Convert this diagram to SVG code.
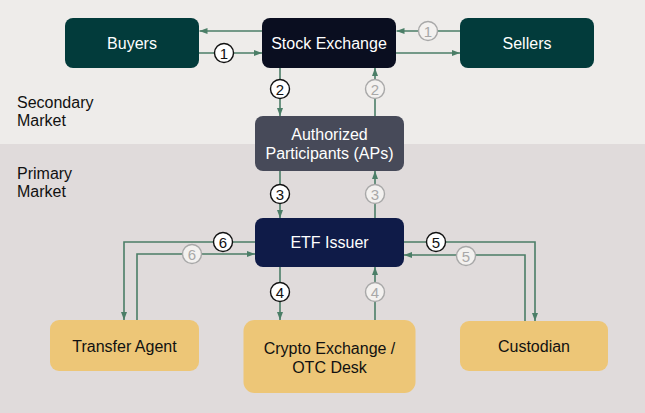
<svg xmlns="http://www.w3.org/2000/svg" width="645" height="413" viewBox="0 0 645 413">
<defs>
<marker id="ah" markerUnits="userSpaceOnUse" markerWidth="8" markerHeight="8" viewBox="0 0 8 8" refX="8" refY="4" orient="auto">
<path d="M0,1 L8,4 L0,7 Z" fill="#4b7e67"/>
</marker>
<style>
.bt{font-family:"Liberation Sans",Arial,sans-serif;font-size:16px;fill:#ffffff;text-anchor:middle;dominant-baseline:central}
.yt{font-family:"Liberation Sans",Arial,sans-serif;font-size:16px;fill:#111111;text-anchor:middle;dominant-baseline:central}
.lab{font-family:"Liberation Sans",Arial,sans-serif;font-size:16px;fill:#111111}
.ln{fill:none;stroke:#4b7e67;stroke-width:1.6;marker-end:url(#ah)}
.cb{fill:#ffffff;stroke:#111111;stroke-width:1.4}
.cg{fill:#f3f1ef;stroke:#a8a8a8;stroke-width:1.4}
.nb{font-family:"Liberation Sans",Arial,sans-serif;font-size:15px;fill:#111111;text-anchor:middle;dominant-baseline:central}
.ng{font-family:"Liberation Sans",Arial,sans-serif;font-size:15px;fill:#a8a8a8;text-anchor:middle;dominant-baseline:central}
</style>
</defs>
<rect x="0" y="0" width="645" height="144" fill="#eeecea"/>
<rect x="0" y="144" width="645" height="269" fill="#e0dbdb"/>
<text class="lab" x="17" y="108">Secondary</text>
<text class="lab" x="17" y="126">Market</text>
<text class="lab" x="17" y="179">Primary</text>
<text class="lab" x="17" y="197">Market</text>

<g id="connectors">
<path class="ln" d="M262,31 H199.5"/>
<path class="ln" d="M199,53 H262"/>
<path class="ln" d="M460,31 H396.5"/>
<path class="ln" d="M396,53 H460"/>
<path class="ln" d="M280,68 V116"/>
<path class="ln" d="M375,116 V68"/>
<path class="ln" d="M280,171 V218"/>
<path class="ln" d="M375,218 V171"/>
<path class="ln" d="M280,267 V320"/>
<path class="ln" d="M375,320 V267"/>
<path class="ln" d="M255,242 H124 V320"/>
<path class="ln" d="M137,320 V254 H255"/>
<path class="ln" d="M404,242 H535 V321"/>
<path class="ln" d="M525,321 V255 H404"/>
<circle class="cb" cx="224" cy="53" r="9.5"/><text class="nb" x="224" y="53.5">1</text>
<circle class="cg" cx="428" cy="31" r="9.5"/><text class="ng" x="428" y="31.5">1</text>
<circle class="cb" cx="280" cy="89" r="9.5"/><text class="nb" x="280" y="89.5">2</text>
<circle class="cg" cx="375" cy="89" r="9.5"/><text class="ng" x="375" y="89.5">2</text>
<circle class="cb" cx="280" cy="194" r="9.5"/><text class="nb" x="280" y="194.5">3</text>
<circle class="cg" cx="375" cy="194" r="9.5"/><text class="ng" x="375" y="194.5">3</text>
<circle class="cb" cx="280" cy="292" r="9.5"/><text class="nb" x="280" y="292.5">4</text>
<circle class="cg" cx="375" cy="292" r="9.5"/><text class="ng" x="375" y="292.5">4</text>
<circle class="cb" cx="436" cy="242" r="9.5"/><text class="nb" x="436" y="242.5">5</text>
<circle class="cg" cx="466" cy="256" r="9.5"/><text class="ng" x="466" y="256.5">5</text>
<circle class="cb" cx="223" cy="242" r="9.5"/><text class="nb" x="223" y="242.5">6</text>
<circle class="cg" cx="192" cy="254" r="9.5"/><text class="ng" x="192" y="254.5">6</text>
</g>

<g id="buyers"><rect x="65" y="18" width="134" height="50" rx="8" fill="#023b3b"/><text class="bt" x="132" y="43">Buyers</text></g>
<g id="stock-exchange"><rect x="262" y="18" width="134" height="50" rx="8" fill="#0a0e20"/><text class="bt" x="329" y="43">Stock Exchange</text></g>
<g id="sellers"><rect x="460" y="18" width="134" height="50" rx="8" fill="#023b3b"/><text class="bt" x="527" y="43">Sellers</text></g>
<g id="aps"><rect x="255" y="116" width="149" height="55" rx="8" fill="#474a59"/><text class="bt" x="329.5" y="134.5">Authorized</text><text class="bt" x="329.5" y="153.5">Participants (APs)</text></g>
<g id="etf-issuer"><rect x="255" y="218" width="149" height="49" rx="8" fill="#0f1b48"/><text class="bt" x="329.5" y="242.5">ETF Issuer</text></g>
<g id="transfer-agent"><rect x="50" y="320" width="149" height="51" rx="9" fill="#edc677"/><text class="yt" x="124.5" y="346">Transfer Agent</text></g>
<g id="crypto-exchange"><rect x="243.5" y="320" width="172" height="73" rx="11" fill="#edc677"/><text class="yt" x="329.5" y="348">Crypto Exchange /</text><text class="yt" x="329.5" y="367">OTC Desk</text></g>
<g id="custodian"><rect x="460" y="321" width="148" height="50" rx="9" fill="#edc677"/><text class="yt" x="534" y="346.5">Custodian</text></g>
</svg>
